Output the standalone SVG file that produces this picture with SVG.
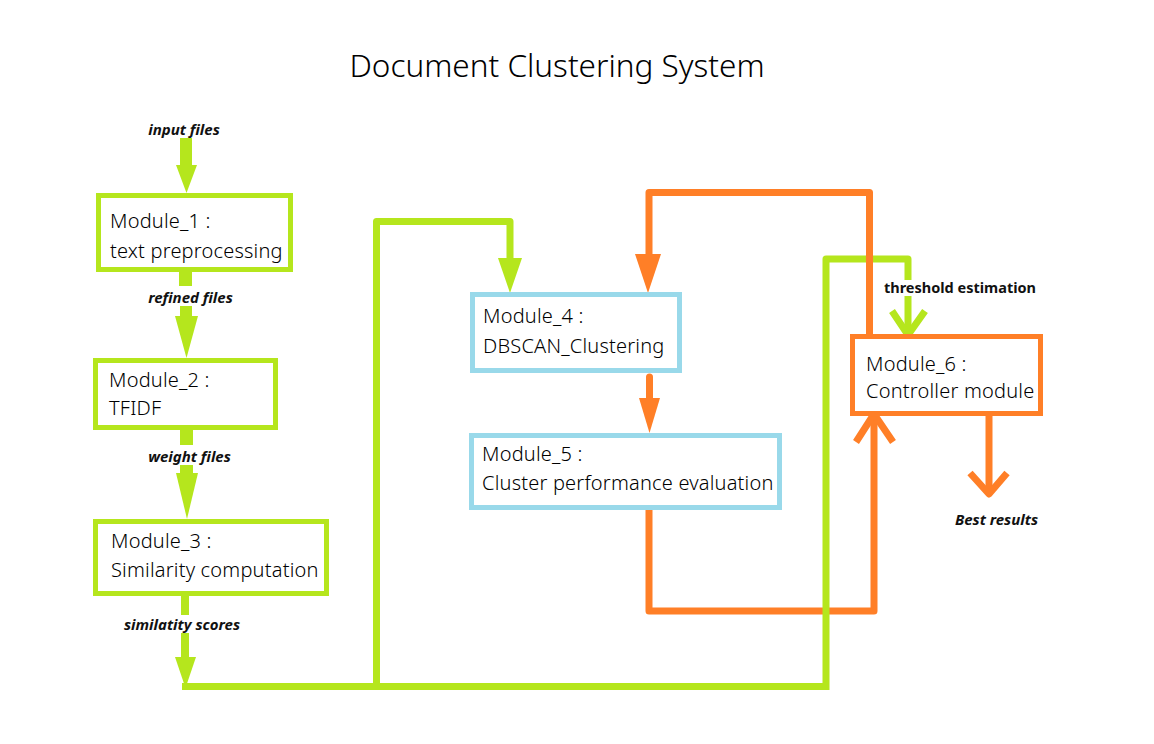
<svg xmlns="http://www.w3.org/2000/svg" width="1154" height="744" viewBox="0 0 1154 744">
<style>
.title{font-family:"Noto Sans","Open Sans",sans-serif;font-size:31.5px;font-weight:300;fill:#000}
.mt{font-family:"Noto Sans","Open Sans",sans-serif;font-size:20px;font-weight:300;letter-spacing:0.2px;fill:#000}
.lbl{font-family:"Noto Sans","Liberation Sans",sans-serif;font-size:15px;font-weight:bold;font-style:italic;fill:#111;text-anchor:middle}
.lblb{font-family:"Noto Sans","Liberation Sans",sans-serif;font-size:14.5px;font-weight:bold;fill:#111;text-anchor:middle}
.gbox{fill:#fff;stroke:#b5e61d;stroke-width:5}
.bbox{fill:#fff;stroke:#99d9ea;stroke-width:5}
.obox{fill:#fff;stroke:#ff7f27;stroke-width:5}
.gl{fill:none;stroke:#b5e61d;stroke-width:7;stroke-linejoin:round}
.ol{fill:none;stroke:#ff7f27;stroke-width:7;stroke-linejoin:round}
.gf{fill:#b5e61d}
.of{fill:#ff7f27}
</style>
<rect width="1154" height="744" fill="#fff"/>
<text class="title" x="557" y="77" text-anchor="middle">Document Clustering System</text>

<g id="connectors">
  <!-- left column arrows -->
  <rect class="gf" x="180" y="138" width="12" height="28"/>
  <polygon class="gf" points="176,165 197,165 186.5,193"/>
  <rect class="gf" x="179" y="271" width="13" height="15"/>
  <rect class="gf" x="180" y="306" width="12" height="12"/>
  <polygon class="gf" points="175,316 198,316 186.5,358"/>
  <rect class="gf" x="180" y="429" width="13" height="16"/>
  <rect class="gf" x="180" y="465" width="13" height="10"/>
  <polygon class="gf" points="176,473 198,473 187,519"/>
  <rect class="gf" x="181" y="595" width="8" height="20"/>
  <rect class="gf" x="181" y="633" width="8" height="26"/>
  <polygon class="gf" points="175,657 196,657 185.5,688"/>
  <!-- orange M5 to M6 -->
  <path class="ol" d="M649 510 V611 H874 V416"/>
  <polyline class="ol" points="856,442 874,414 893,442" stroke-linejoin="miter"/>
  <!-- green loops -->
  <path class="gl" d="M182 686.5 H826 M376.5 686.5 V221.5 H510 V262"/>
  <polygon class="gf" points="498,258 522,258 510,293"/>
  <path class="gl" d="M826 690 V259 H908 V280 M908 296 V334"/>
  <polyline class="gl" points="892,311 908,335 925,311" stroke-linejoin="miter"/>
  <!-- orange top loop -->
  <path class="ol" d="M869.5 335 V192.5 H649 V258"/>
  <polygon class="of" points="635,254 661,254 648,293"/>
  <!-- M4 to M5 -->
  <path class="ol" d="M649.5 377 V402" stroke-width="14" stroke-linecap="round"/>
  <polygon class="of" points="639,398 660,398 649.5,433"/>
  <!-- best results -->
  <path class="ol" d="M989 415 V492"/>
  <polyline class="ol" points="970,473 989,494 1007,473" stroke-linejoin="miter"/>
</g>

<g id="labels">
  <text class="lbl" x="184" y="135">input files</text>
  <text class="lbl" x="190.5" y="303">refined files</text>
  <text class="lbl" x="189.5" y="462">weight files</text>
  <text class="lbl" x="182" y="630">similatity scores</text>
  <text class="lblb" x="960" y="293">threshold estimation</text>
  <text class="lbl" x="996.5" y="525">Best results</text>
</g>

<g id="module1">
  <rect class="gbox" x="98.5" y="195.5" width="192" height="74"/>
  <text class="mt" x="110" y="228">Module_1 :</text>
  <text class="mt" x="110" y="258">text preprocessing</text>
</g>
<g id="module2">
  <rect class="gbox" x="95.5" y="360.5" width="180" height="67"/>
  <text class="mt" x="109" y="387">Module_2  :</text>
  <text class="mt" x="109" y="415">TFIDF</text>
</g>
<g id="module3">
  <rect class="gbox" x="95.5" y="521.5" width="231" height="72"/>
  <text class="mt" x="111" y="548">Module_3  :</text>
  <text class="mt" x="111" y="577">Similarity computation</text>
</g>
<g id="module4">
  <rect class="bbox" x="472.5" y="294.5" width="207" height="76"/>
  <text class="mt" x="483" y="323">Module_4 :</text>
  <text class="mt" x="483" y="353">DBSCAN_Clustering</text>
</g>
<g id="module5">
  <rect class="bbox" x="471.5" y="435.5" width="308" height="72"/>
  <text class="mt" x="482" y="461">Module_5 :</text>
  <text class="mt" x="482" y="490">Cluster performance evaluation</text>
</g>
<g id="module6">
  <rect class="obox" x="852.5" y="336.5" width="188" height="77"/>
  <text class="mt" x="866" y="371">Module_6 :</text>
  <text class="mt" x="866" y="398">Controller module</text>
</g>
</svg>
